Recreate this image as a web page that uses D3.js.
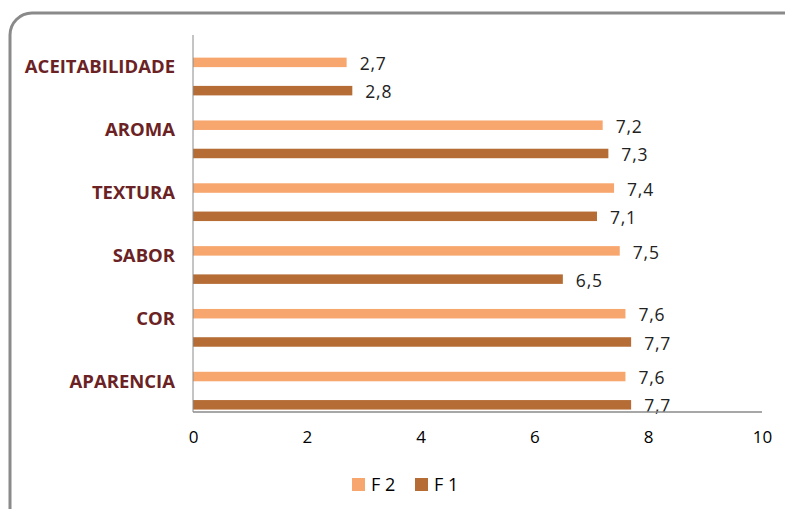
<!DOCTYPE html>
<html><head><meta charset="utf-8">
<script src="https://cdn.jsdelivr.net/npm/d3@7"></script>
<style>body{margin:0;background:#fff}svg{display:block}</style>
</head><body>
<svg id="c" width="785" height="509"></svg>
<script>
const categories = ["ACEITABILIDADE","AROMA","TEXTURA","SABOR","COR","APARENCIA"];
const seriesNames = ["F 2","F 1"];
const f2Values = [2.7,7.2,7.4,7.5,7.6,7.6];
const f1Values = [2.8,7.3,7.1,6.5,7.7,7.7];
const xTicks = [0,2,4,6,8,10];
const colors = ["#F7A66E","#B56D35"];

(function(){
const svg = d3.select("#c");
const font = "'Open Sans', sans-serif";

svg.append("rect").attr("x",10).attr("y",13).attr("width",800).attr("height",520)
  .attr("rx",22).attr("fill","none").attr("stroke","#8a8a8a").attr("stroke-width",3);

const pL = 193, pR = 762, pT = 35, pB = 412;
const x = d3.scaleLinear().domain([0,10]).range([pL,pR]);
const y = d3.scaleBand().domain(categories).range([pT,pB]);
const bw = y.bandwidth();
const offsets = [bw*0.36, bw*0.81];
const barH = 9.5;

const data = categories.map((c,i)=>({cat:c, vals:[f2Values[i], f1Values[i]]}));

const g = svg.append("g");
data.forEach(d=>{
  d.vals.forEach((v,s)=>{
    const yy = y(d.cat)+offsets[s];
    g.append("rect").attr("x",x(0)).attr("y",yy).attr("width",x(v)-x(0)).attr("height",barH)
      .attr("fill",colors[s]);
    g.append("text").attr("x",x(v)+13).attr("y",yy+barH/2+3)
      .attr("dominant-baseline","middle").attr("font-family",font).attr("font-size",17.5)
      .attr("letter-spacing",0.8)
      .attr("fill","#222").text(String(v.toFixed(1)).replace(".",","));
  });
  svg.append("text").attr("x",175).attr("y",y(d.cat)+bw/2+2)
    .attr("text-anchor","end").attr("dominant-baseline","middle")
    .attr("font-family",font).attr("font-weight","bold").attr("font-size",18.5)
    .attr("fill","#6B2224").text(d.cat);
});

svg.append("line").attr("x1",x(0)).attr("x2",x(0)).attr("y1",pT).attr("y2",pB)
  .attr("stroke","#8a8a8a").attr("stroke-width",1);
svg.append("line").attr("x1",x(0)).attr("x2",x(10)).attr("y1",pB).attr("y2",pB)
  .attr("stroke","#8a8a8a").attr("stroke-width",1.5);

const xAxis = d3.axisBottom(x).tickValues(xTicks).tickSize(0).tickPadding(0).tickFormat(d=>d);
const ax = svg.append("g").attr("transform",`translate(0,${pB+19})`).call(xAxis);
ax.select(".domain").remove();
ax.selectAll("text").attr("font-family",font).attr("font-size",17).attr("fill","#000");

const leg = svg.append("g");
const legX = [352, 415];
seriesNames.forEach((n,i)=>{
  leg.append("rect").attr("x",legX[i]).attr("y",478).attr("width",13).attr("height",13).attr("fill",colors[i]);
  leg.append("text").attr("x",legX[i]+19).attr("y",486).attr("dominant-baseline","middle")
    .attr("font-family",font).attr("font-size",18).attr("fill","#000").text(n);
});
})();
</script>
</body></html>
